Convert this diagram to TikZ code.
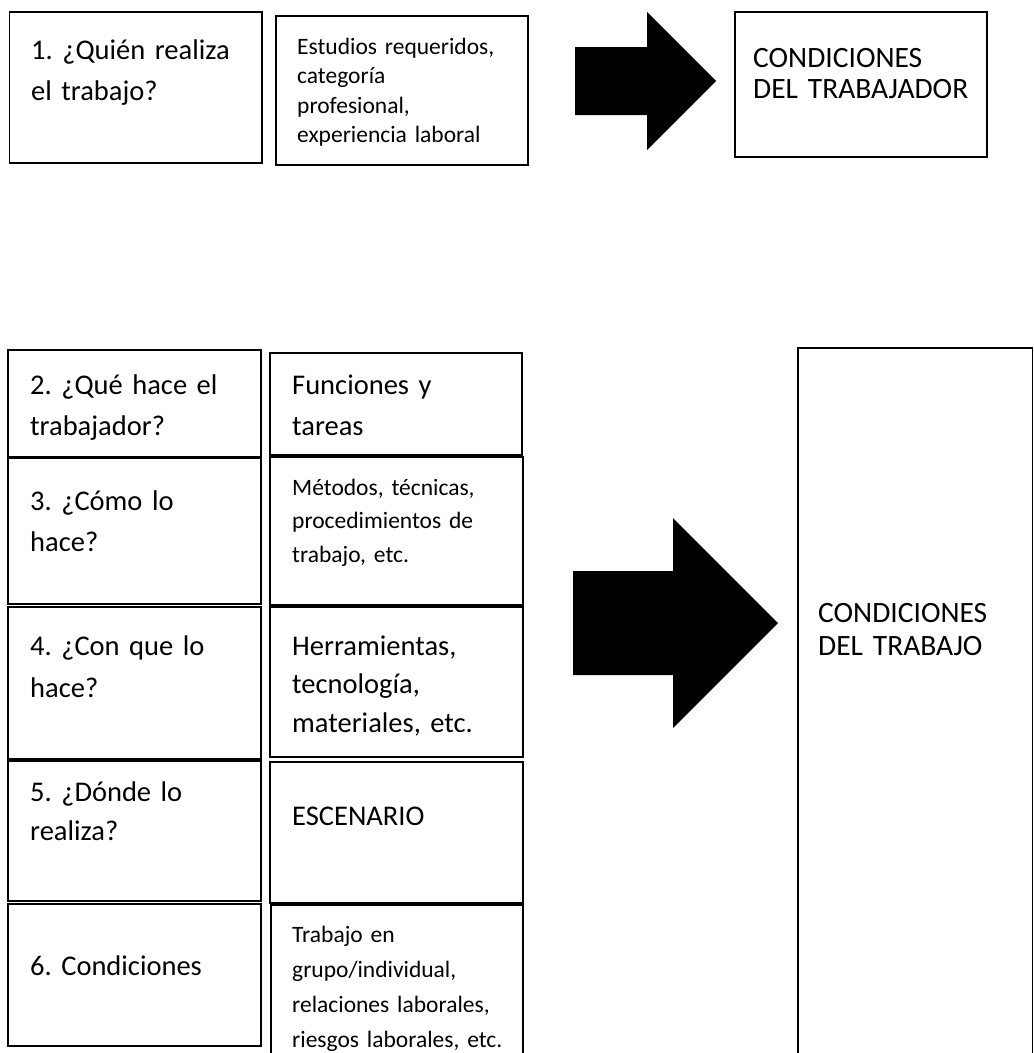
\documentclass[tikz,border=0pt]{standalone}
\usepackage{fontspec}
\setmainfont{Carlito}
\frenchspacing
\begin{document}
\begin{tikzpicture}[x=1pt,y=-1pt,
  box/.style={draw=black, line width=1.4pt, anchor=north west, inner sep=0pt, outer sep=0pt},
  bigtxt/.style={font=\fontsize{28.5}{41}\selectfont, anchor=base west, inner sep=0pt, text width=240pt, align=left},
  captxt/.style={font=\fontsize{29.5}{32}\selectfont, anchor=base west, inner sep=0pt, text width=240pt, align=left},
  smalltxt/.style={font=\fontsize{23.5}{34}\selectfont, anchor=base west, inner sep=0pt, text width=235pt, align=left},
  blackarrow/.style={fill=black}]
\useasboundingbox (0,0) rectangle (1034,1053);
% ---------- top row ----------
\node[box, minimum width=252.5pt, minimum height=151pt] (b1) at (9.5,12) {};
\node[box, minimum width=252pt, minimum height=149pt] (b2) at (276,16) {};
\node[box, minimum width=252pt, minimum height=145pt] (b3) at (735,12) {};
\node[bigtxt] (t1) at (31,59) {1. ¿Quién realiza\\el trabajo?};
\node[smalltxt, font=\fontsize{23.5}{29.5}\selectfont] (t2) at (297,54) {Estudios requeridos,\\categoría\\profesional,\\experiencia laboral};
\node[captxt, font=\fontsize{29.5}{31}\selectfont] (t3) at (753,67) {CONDICIONES\\DEL TRABAJADOR};
\fill[blackarrow] (575,47) -- (647,47) -- (647,12) -- (716,81) -- (647,150) -- (647,115) -- (575,115) -- cycle;
% ---------- lower block ----------
\node[box, minimum width=253pt, minimum height=107pt] (L2) at (8,350) {};
\node[box, minimum width=252pt, minimum height=102pt] (R2) at (270,353) {};
\node[box, minimum width=253pt, minimum height=146pt] (L3) at (8,458) {};
\node[box, minimum width=253pt, minimum height=148pt] (R3) at (270,457) {};
\node[box, minimum width=253pt, minimum height=152pt] (L4) at (8,607) {};
\node[box, minimum width=253pt, minimum height=150pt] (R4) at (270,607) {};
\node[box, minimum width=253pt, minimum height=140pt] (L5) at (8,761) {};
\node[box, minimum width=253pt, minimum height=141pt] (R5) at (270,762) {};
\node[box, minimum width=253pt, minimum height=142pt] (L6) at (8,904) {};
\node[box, minimum width=252pt, minimum height=160pt] (R6) at (271,905) {};
\node[box, minimum width=234.5pt, minimum height=720pt] (BB) at (798,348) {};
\node[bigtxt] (tL2) at (30,394) {2. ¿Qué hace el\\trabajador?};
\node[bigtxt] (tR2) at (292,394) {Funciones y\\tareas};
\node[bigtxt] (tL3) at (30,510) {3. ¿Cómo lo\\hace?};
\node[smalltxt, font=\fontsize{23.5}{33.5}\selectfont] (tR3) at (292,495) {Métodos, técnicas,\\procedimientos de\\trabajo, etc.};
\node[bigtxt, font=\fontsize{28.5}{42}\selectfont] (tL4) at (30,655) {4. ¿Con que lo\\hace?};
\node[bigtxt, font=\fontsize{28.5}{38.5}\selectfont] (tR4) at (292,655) {Herramientas,\\tecnología,\\materiales, etc.};
\node[bigtxt, font=\fontsize{28.5}{39}\selectfont] (tL5) at (30,801) {5. ¿Dónde lo\\realiza?};
\node[bigtxt] (tR5) at (292,825) {ESCENARIO};
\node[bigtxt] (tL6) at (30,975) {6. Condiciones};
\node[smalltxt, font=\fontsize{23.5}{35}\selectfont] (tR6) at (292,942) {Trabajo en\\grupo/individual,\\relaciones laborales,\\riesgos laborales, etc.};
\node[captxt, font=\fontsize{29.5}{33}\selectfont] (tBB) at (818,622) {CONDICIONES\\DEL TRABAJO};
\fill[blackarrow] (573,571) -- (673,571) -- (673,518) -- (778,623) -- (673,728) -- (673,675) -- (573,675) -- cycle;
\end{tikzpicture}
\end{document}
